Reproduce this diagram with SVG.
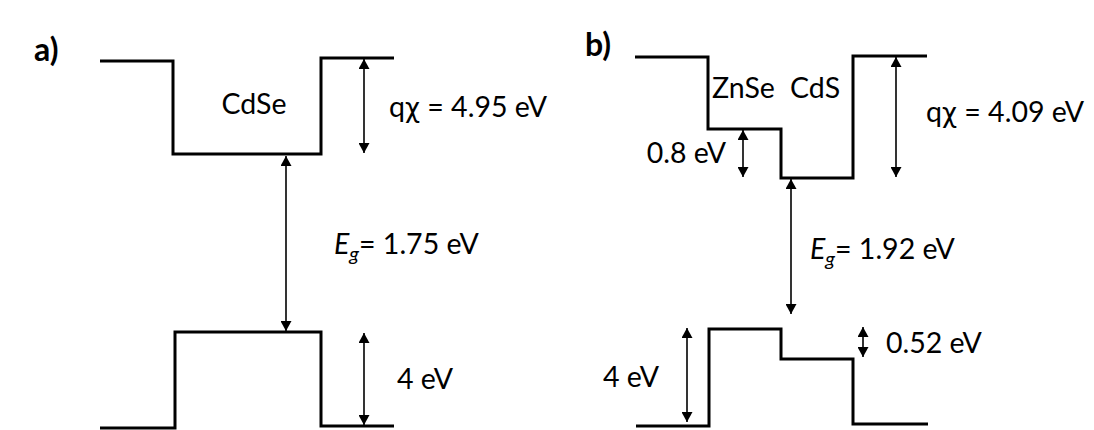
<svg xmlns="http://www.w3.org/2000/svg" width="1094" height="430" viewBox="0 0 1094 430">
<defs>
<marker id="ah" viewBox="0 0 10 11" refX="10" refY="5.5" markerWidth="10" markerHeight="11" markerUnits="userSpaceOnUse" orient="auto-start-reverse">
<path d="M0,0 L10,5.5 L0,11 z" fill="#000"/>
</marker>
<style>
.band{fill:none;stroke:#000;stroke-width:3;stroke-linejoin:miter}
.dim{fill:none;stroke:#000;stroke-width:1.6;marker-start:url(#ah);marker-end:url(#ah)}
text{font-family:Lato,"Open Sans","Liberation Sans",sans-serif;font-size:28.5px;fill:#000}
.lbl{font-weight:bold;font-size:32px}
.it{font-style:italic}
.chi{font-family:"DejaVu Sans",sans-serif;font-size:26px}
.sub{font-style:italic;font-size:20px}
</style>
</defs>
<rect width="1094" height="430" fill="#fff"/>
<g id="panel-a">
<text class="lbl" x="34" y="61">a)</text>
<g id="a-conduction"><path class="band" d="M100,61 H173 V154 H321 V58 H394"/></g>
<g id="a-valence"><path class="band" d="M100,428 H175 V332 H321 V426 H394"/></g>
<text id="a-cdse" x="254" y="114" text-anchor="middle">CdSe</text>
<text id="a-chi" x="389" y="117">q<tspan class="chi">χ</tspan> = 4.95 eV</text>
<text id="a-eg" x="334" y="254"><tspan class="it">E</tspan><tspan class="sub" dy="7">g</tspan><tspan dy="-7">= 1.75 eV</tspan></text>
<text id="a-4ev" x="397" y="389">4 eV</text>
</g>
<g id="panel-b">
<text class="lbl" x="585" y="56">b)</text>
<g id="b-conduction"><path class="band" d="M635,57 H708 V129 H781 V178 H853 V56 H927"/></g>
<g id="b-valence"><path class="band" d="M636,426 H709 V329 H781 V359 H853 V424 H928"/></g>
<text id="b-znse" x="712" y="98">ZnSe</text>
<text id="b-cds" x="790" y="98">CdS</text>
<text id="b-08" x="726" y="163" text-anchor="end">0.8 eV</text>
<text id="b-chi" x="926" y="122">q<tspan class="chi">χ</tspan> = 4.09 eV</text>
<text id="b-eg" x="810" y="259"><tspan class="it">E</tspan><tspan class="sub" dy="7">g</tspan><tspan dy="-7">= 1.92 eV</tspan></text>
<text id="b-052" x="886" y="353">0.52 eV</text>
<text id="b-4ev" x="659" y="387" text-anchor="end">4 eV</text>
</g>
<g id="connectors">
<line class="dim" x1="364" y1="59" x2="364" y2="153"/>
<line class="dim" x1="286" y1="156" x2="286" y2="331"/>
<line class="dim" x1="364" y1="333" x2="364" y2="425"/>
<line class="dim" x1="743" y1="130" x2="743" y2="177"/>
<line class="dim" x1="896" y1="57" x2="896" y2="177"/>
<line class="dim" x1="791" y1="179" x2="791" y2="314"/>
<line class="dim" x1="863" y1="327" x2="863" y2="357"/>
<line class="dim" x1="687" y1="328" x2="687" y2="422"/>
</g>
</svg>
